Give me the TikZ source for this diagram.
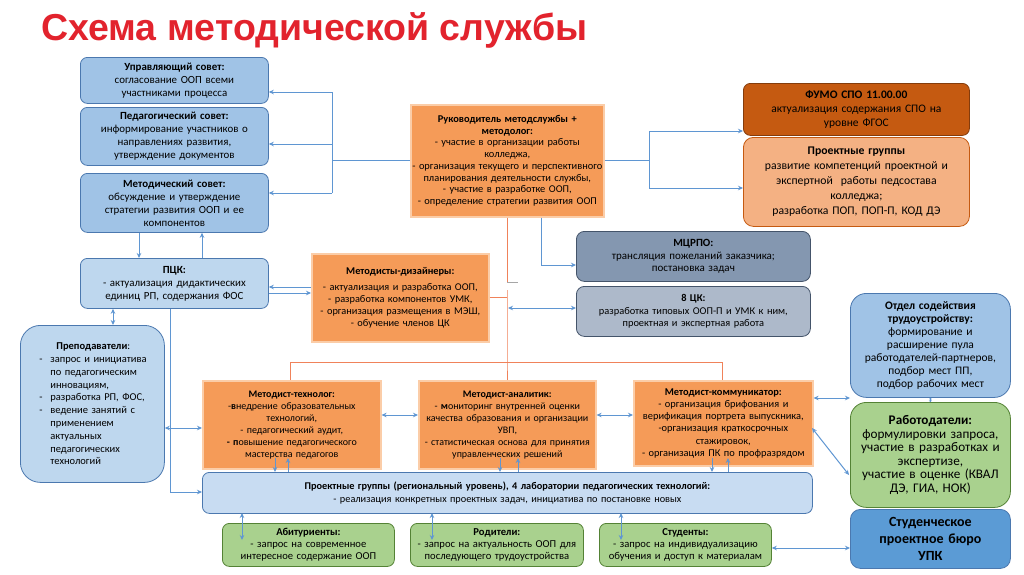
\documentclass[tikz,border=0pt]{standalone}
\usepackage{fontspec}
\setmainfont{Carlito}
\newfontfamily\titlefont{Liberation Sans}
\usetikzlibrary{arrows.meta,calc}
\definecolor{ttl}{RGB}{226,35,45}
\definecolor{bfill}{RGB}{160,195,230}
\definecolor{bfillL}{RGB}{190,215,238}
\definecolor{bfillP}{RGB}{200,220,242}
\definecolor{bdraw}{RGB}{75,120,175}
\definecolor{gfill}{RGB}{169,209,142}
\definecolor{gdraw}{RGB}{84,130,53}
\definecolor{ofill}{RGB}{245,155,88}
\definecolor{oedge}{RGB}{251,205,168}
\definecolor{fumo}{RGB}{197,90,17}
\definecolor{fumod}{RGB}{132,60,12}
\definecolor{peach}{RGB}{244,177,131}
\definecolor{sdark}{RGB}{132,151,176}
\definecolor{sdarkd}{RGB}{68,84,106}
\definecolor{slight}{RGB}{173,185,202}
\definecolor{buro}{RGB}{91,155,213}
\definecolor{lineb}{RGB}{95,150,210}
\definecolor{lineo}{RGB}{240,130,90}
\tikzset{
  box/.style={anchor=north west, align=center, inner sep=1pt, line width=0.8pt, font=\fontsize{10}{12}\selectfont},
  bluebox/.style={box, rounded corners=7pt, fill=bfill, draw=bdraw},
  lbluebox/.style={box, rounded corners=7pt, fill=bfillL, draw=bdraw},
  greenbox/.style={box, rounded corners=7pt, fill=gfill, draw=gdraw},
  orbox/.style={box, fill=ofill, draw=oedge, line width=1.6pt},
  conn/.style={draw=lineb, line width=1pt},
  arr/.style={conn, -{Stealth[length=5pt,width=4.5pt]}},
  darr/.style={conn, {Stealth[length=5pt,width=4.5pt]}-{Stealth[length=5pt,width=4.5pt]}},
  oconn/.style={draw=lineo, line width=1pt},
}
\begin{document}
\begin{tikzpicture}[x=1pt,y=-1pt]
\useasboundingbox[fill=white] (0,0) rectangle (1024,574);
\node[anchor=base west, text=ttl, font=\titlefont\bfseries\fontsize{37.5}{42}\selectfont, inner sep=0pt] (title) at (41,40) {Схема методической службы};

% left column
\node[bluebox, minimum width=188pt, minimum height=46pt, text width=184pt, font=\fontsize{10.9}{13}\selectfont] (upr) at (80,57)
 {\textbf{Управляющий совет:}\\согласование ООП всеми\\участниками процесса};
\node[bluebox, minimum width=188pt, minimum height=58pt, text width=184pt, font=\fontsize{10.9}{13}\selectfont] (ped) at (80,107)
 {\textbf{Педагогический совет:}\\информирование участников о\\направлениях развития,\\утверждение документов};
\node[bluebox, minimum width=188pt, minimum height=59pt, text width=184pt, font=\fontsize{10.9}{13}\selectfont] (met) at (80,173)
 {\textbf{Методический совет:}\\обсуждение и утверждение\\стратегии развития ООП и ее\\компонентов};
\node[lbluebox, minimum width=188pt, minimum height=50pt, text width=184pt, font=\fontsize{10.9}{13}\selectfont] (pck) at (80,258)
 {\textbf{ПЦК:}\\- актуализация дидактических\\единиц РП, содержания ФОС};
\node[lbluebox, rounded corners=20pt, minimum width=144pt, minimum height=157pt, text width=140pt, align=left, font=\fontsize{10.5}{12.8}\selectfont] (prep) at (20,325)
 {\hspace*{34pt}\textbf{Преподаватели}:\\
  \hspace*{17pt}\makebox[11pt][l]{-}запрос и инициатива\\
  \hspace*{28pt}по педагогическим\\
  \hspace*{28pt}инновациям,\\
  \hspace*{17pt}\makebox[11pt][l]{-}разработка РП, ФОС,\\
  \hspace*{17pt}\makebox[11pt][l]{-}ведение занятий с\\
  \hspace*{28pt}применением\\
  \hspace*{28pt}актуальных\\
  \hspace*{28pt}педагогических\\
  \hspace*{28pt}технологий};

% centre
\node[orbox, minimum width=193pt, minimum height=112pt, text width=193pt, inner sep=0pt, font=\fontsize{10.4}{11.7}\selectfont] (ruk) at (410,104)
 {\textbf{Руководитель методслужбы +}\\\textbf{методолог:}\\- участие в организации работы\\колледжа,\\- организация текущего и перспективного\\планирования деятельности службы,\\- участие в разработке ООП,\\- определение стратегии развития ООП};
\node[orbox, minimum width=177pt, minimum height=88pt, text width=174pt, font=\fontsize{10.35}{12}\selectfont] (diz) at (311,253)
 {\textbf{Методисты-дизайнеры:}\\[4pt]- актуализация и разработка ООП,\\- разработка компонентов УМК,\\- организация размещения в МЭШ,\\- обучение членов ЦК};

% right top
\node[box, rounded corners=7pt, fill=fumo, draw=fumod, minimum width=226pt, minimum height=52pt, text width=222pt, font=\fontsize{11.5}{14}\selectfont] (fumo) at (743,83)
 {\textbf{ФУМО СПО 11.00.00}\\актуализация содержания СПО на\\уровне ФГОС};
\node[box, rounded corners=10pt, fill=peach, draw=fumo, minimum width=226pt, minimum height=89pt, text width=222pt, font=\fontsize{11.7}{15}\selectfont] (progr) at (743,137)
 {\textbf{Проектные группы}\\развитие компетенций проектной и\\экспертной\ \ работы педсостава\\колледжа;\\разработка ПОП, ПОП-П, КОД ДЭ};
\node[box, rounded corners=8pt, fill=sdark, draw=sdarkd, minimum width=234pt, minimum height=50pt, text width=230pt, font=\fontsize{11}{12.5}\selectfont] (mcrpo) at (576,231)
 {\textbf{МЦРПО:}\\трансляция пожеланий заказчика;\\постановка задач};
\node[box, rounded corners=8pt, fill=slight, draw=sdarkd, minimum width=234pt, minimum height=50pt, text width=230pt, font=\fontsize{10.4}{12.5}\selectfont] (ck8) at (576,286)
 {\textbf{8 ЦК:}\\разработка типовых ООП-П и УМК к ним,\\проектная и экспертная работа};

% far right
\node[bluebox, rounded corners=16pt, minimum width=160pt, minimum height=104pt, text width=158pt, font=\fontsize{11.5}{13}\selectfont] (otdel) at (850,293)
 {{\fontsize{11.5}{13.5}\selectfont\textbf{Отдел содействия}\\\textbf{трудоустройству:}}\\формирование и\\расширение пула\\работодателей-партнеров,\\подбор мест ПП,\\подбор рабочих мест};
\node[greenbox, rounded corners=16pt, minimum width=160pt, minimum height=105pt, text width=158pt, font=\fontsize{13.2}{13.6}\selectfont] (rabot) at (850,402)
 {\textbf{Работодатели:}\\формулировки запроса,\\участие в разработках и\\экспертизе,\\участие в оценке (КВАЛ\\ДЭ, ГИА, НОК)};
\node[box, rounded corners=10pt, fill=buro, draw=bdraw, minimum width=160pt, minimum height=59pt, text width=158pt, font=\fontsize{14}{17}\selectfont\bfseries] (buro) at (850,509)
 {Студенческое\\проектное бюро\\УПК};

% methodists
\node[orbox, minimum width=178pt, minimum height=88pt, text width=176pt] (tech) at (202,380)
 {\textbf{Методист-технолог:}\\-\textbf{в}недрение образовательных\\технологий,\\- педагогический аудит,\\\textbf{- п}овышение педагогического\\мастерства педагогов};
\node[orbox, minimum width=177pt, minimum height=88pt, text width=175pt] (anal) at (418,380)
 {\textbf{Методист-аналитик:}\\- \textbf{м}ониторинг внутренней оценки\\качества образования и организации\\УВП,\\- статистическая основа для принятия\\управленческих решений};
\node[orbox, minimum width=179pt, minimum height=85pt, text width=177pt, font=\fontsize{10.4}{12.2}\selectfont] (komm) at (633,380)
 {\textbf{Методист-коммуникатор:}\\- организация брифования и\\верификация портрета выпускника,\\-организация краткосрочных\\стажировок,\\- организация ПК по профразрядом};

\node[box, rounded corners=7pt, fill=bfillP, draw=bdraw, minimum width=610pt, minimum height=41pt, text width=600pt, font=\fontsize{10.3}{12.5}\selectfont] (proj) at (202,472)
 {\textbf{Проектные группы (региональный уровень), 4 лаборатории педагогических технологий:}\\- реализация конкретных проектных задач, инициатива по постановке новых};

\node[greenbox, minimum width=172pt, minimum height=43pt, text width=170pt, font=\fontsize{10.6}{12.3}\selectfont] (abit) at (222,523)
 {\textbf{Абитуриенты:}\\- запрос на современное\\интересное содержание ООП};
\node[greenbox, minimum width=173pt, minimum height=43pt, text width=171pt, font=\fontsize{10.6}{12.3}\selectfont] (rod) at (410,523)
 {\textbf{Родители:}\\- запрос на актуальность ООП для\\последующего трудоустройства};
\node[greenbox, minimum width=172pt, minimum height=43pt, text width=170pt, font=\fontsize{10.6}{12.3}\selectfont] (stud) at (599,523)
 {\textbf{Студенты:}\\- запрос на индивидуализацию\\обучения и доступ к материалам};

% ---------- connectors ----------
% left bus
\coordinate (lb1) at (332,92);
\coordinate (lb2) at (332,144);
\coordinate (lb3) at (332,193);
\draw[conn] (ruk.west) -- (ruk.west -| lb1);
\draw[conn] (lb1) -- (lb3);
\draw[arr] (lb1) -- (lb1 -| upr.east);
\draw[arr] (lb2) -- (lb2 -| ped.east);
\draw[arr] (lb3) -- (lb3 -| met.east);
% right bus
\coordinate (rb1) at (649,131);
\coordinate (rb2) at (649,188);
\draw[conn] (ruk.east) -- (ruk.east -| rb1);
\draw[conn] (rb1) -- (rb2);
\draw[arr] (rb1) -- (rb1 -| fumo.west);
\draw[arr] (rb2) -- (rb2 -| progr.west);
% to MCRPO
\coordinate (mc) at (541,265);
\draw[arr] (mc |- ruk.south) -- (mc) -- (mc -| mcrpo.west);
% orange tree
\coordinate (ov) at (507,282);
\coordinate (ob) at (507,362);
\draw[oconn] (ov |- ruk.south) -- (ov);
\draw[draw=gray!70, line width=1pt] (ov) -- ++(11,0);
\draw[oconn] (507,290) -- (ob) -- (ob |- anal.north);
\draw[oconn] (diz.east |- 0,297) -- (507,297);
\coordinate (ot) at (290,362);
\coordinate (ok) at (722,362);
\draw[oconn] (ot |- tech.north) -- (ot) -- (ok) -- (ok |- komm.north);
% to 8 CK
\coordinate (c8) at (508,308);
\draw[darr] (c8) -- (c8 -| ck8.west);
% PCK <-> designers
\coordinate (pd1) at (290,287);
\coordinate (pd2) at (290,293);
\draw[arr] (pd1 -| diz.west) -- (pd1 -| pck.east);
\draw[arr] (pd2 -| pck.east) -- (pd2 -| diz.west);
% met <-> pck
\coordinate (mp1) at (139,245);
\coordinate (mp2) at (202,245);
\draw[arr] (mp1 |- met.south) -- (mp1 |- pck.north);
\draw[arr] (mp2 |- pck.north) -- (mp2 |- met.south);
% pck <-> prep
\coordinate (pp) at (113,315);
\draw[darr] (pp |- pck.south) -- (pp |- prep.north);
% pck down to proj
\coordinate (pv) at (170,492);
\draw[arr] (pv |- pck.south) -- (pv) -- (pv -| proj.west);
% prep <-> tech
\coordinate (pt) at (180,428);
\draw[darr] (pt -| prep.east) -- (pt -| tech.west);
% between methodists
\coordinate (mm) at (400,415);
\draw[darr] (mm -| tech.east) -- (mm -| anal.west);
\draw[darr] (mm -| anal.east) -- (mm -| komm.west);
% komm <-> otdel, rabot
\coordinate (ko) at (830,398);
\draw[darr] (ko -| komm.east) -- (ko -| otdel.west);
\coordinate (kr1) at (812,428);
\coordinate (kr2) at (849,475);
\draw[darr] (kr1) -- (kr2);
% otdel <-> rabot
\draw[conn, {Stealth[length=1.6pt,width=3pt]}-{Stealth[length=1.6pt,width=3pt]}] (otdel.south) -- (rabot.north);
% stud <-> buro
\coordinate (sb) at (800,548);
\draw[darr] (sb -| stud.east) -- (sb -| buro.west);
% methodists <-> proj
\foreach \n/\a/\b in {tech/275/288, anal/500/518, komm/712/728}{
  \draw[arr] (\a,458) -- (\a,472);
  \draw[arr] (\b,472) -- (\b,458);
}
% proj <-> bottom boxes
\foreach \xx in {242,432,621}{
  \draw[darr] (\xx,513) -- (\xx,540);
}
\end{tikzpicture}
\end{document}
